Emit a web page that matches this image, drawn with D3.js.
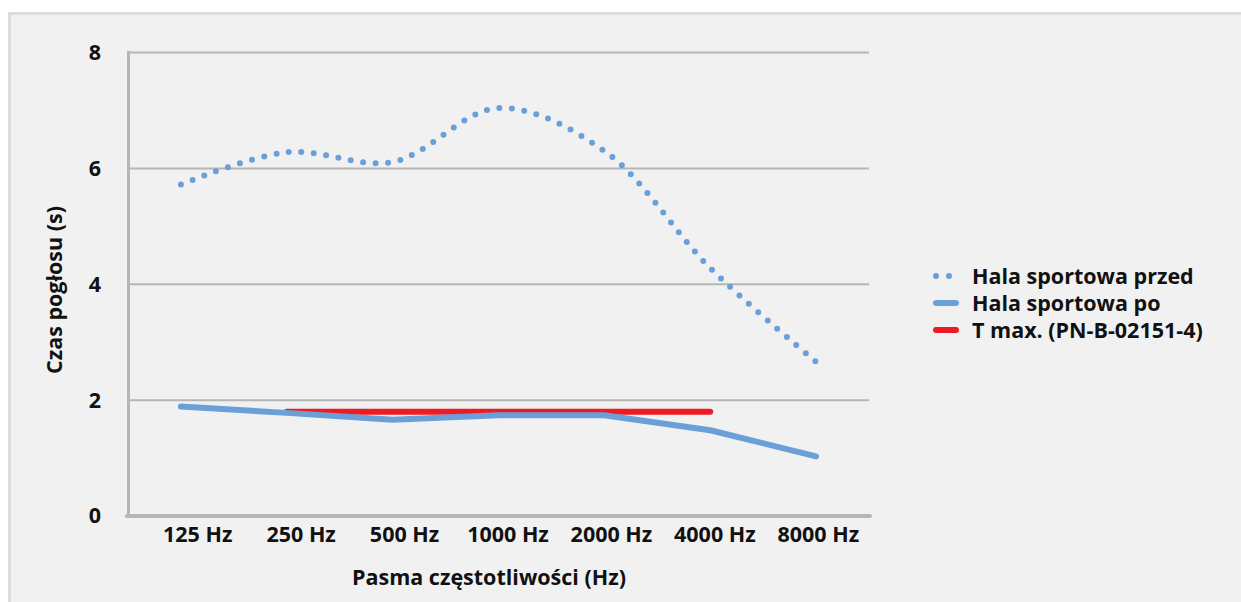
<!DOCTYPE html>
<html>
<head>
<meta charset="utf-8">
<script src="https://cdn.jsdelivr.net/npm/d3@7"></script>
<style>
  body { margin: 0; background: #ffffff; }
  text { font-family: "Open Sans", "Noto Sans", sans-serif; font-weight: bold; fill: #111; }
</style>
</head>
<body>
<div id="chart"></div>
<script>
let w = 1241
let h = 602

// data
let bands = ["125 Hz", "250 Hz", "500 Hz", "1000 Hz", "2000 Hz", "4000 Hz", "8000 Hz"];
let przed = [5.72, 6.28, 6.11, 7.04, 6.3, 4.28, 2.66];
let po = [1.89, 1.78, 1.66, 1.74, 1.74, 1.48, 1.03];
let tmaxBands = ["250 Hz", "500 Hz", "1000 Hz", "2000 Hz", "4000 Hz"];
let tmax = [1.8, 1.8, 1.8, 1.8, 1.8];
let yTicks = [0, 2, 4, 6, 8];
let legendNames = ["Hala sportowa przed", "Hala sportowa po", "T max. (PN-B-02151-4)"];

let blue = "#6a9fd8"
let red = "#ed1c24"
let grid = "#b6b6b6"
let fs = 21.5

let svg = d3.select("#chart")
  .append("svg")
    .attr("width", w)
    .attr("height", h)
;

//panel background
svg.append("rect")
  .attr("x", 9.5)
  .attr("y", 13.5)
  .attr("width", w + 20)
  .attr("height", h + 20)
  .attr("fill", "#f1f1f1")
  .attr("stroke", "#dcdcdc")
  .attr("stroke-width", 3)

//scales
let x = d3.scaleBand()
  .domain(bands)
  .range([128, 869])
;
let xLab = d3.scaleBand()
  .domain(bands)
  .range([146, 870])
;
let y = d3.scaleLinear()
  .domain([0, 8])
  .range([516, 52.5])
;
function cx(d){ return x(d) + x.bandwidth()/2 }

//gridlines
svg.append("g")
  .selectAll("line")
  .data(yTicks.filter(t => t > 0))
  .enter()
  .append("line")
    .attr("x1", 128)
    .attr("x2", 869)
    .attr("y1", d => y(d))
    .attr("y2", d => y(d))
    .attr("stroke", grid)
    .attr("stroke-width", 2)

//y axis
let yAxis = svg.append("g")
  .attr("transform", "translate(101,0)")
  .call(d3.axisLeft(y).tickValues(yTicks).tickSize(0).tickPadding(0))
yAxis.select(".domain").remove()
yAxis.selectAll("text")
  .attr("font-size", fs)
  .attr("fill", "#111")
  .style("font-family", "'Open Sans', sans-serif")
  .style("font-weight", "bold")

svg.append("line")
  .attr("x1", 128.5).attr("x2", 128.5)
  .attr("y1", 51).attr("y2", 517)
  .attr("stroke", grid)
  .attr("stroke-width", 3)

//x axis
let xAxis = svg.append("g")
  .attr("transform", "translate(0,527)")
  .call(d3.axisBottom(xLab).tickSize(0).tickPadding(0))
xAxis.select(".domain").remove()
xAxis.selectAll("text")
  .attr("dy", "0.71em")
  .attr("font-size", fs)
  .attr("fill", "#111")
  .style("font-family", "'Open Sans', sans-serif")
  .style("font-weight", "bold")

svg.append("line")
  .attr("x1", 127).attr("x2", 870)
  .attr("y1", y(0)).attr("y2", y(0))
  .attr("stroke", grid)
  .attr("stroke-width", 4)
  .attr("stroke-linecap", "round")

//axis titles
svg.append("text")
  .text("Pasma częstotliwości (Hz)")
  .attr("x", 489)
  .attr("y", 585)
  .attr("text-anchor", "middle")
  .attr("font-size", fs)

svg.append("text")
  .text("Czas pogłosu (s)")
  .attr("transform", "translate(62,290) rotate(-90)")
  .attr("text-anchor", "middle")
  .attr("font-size", fs)

//lines
let smooth = d3.line()
  .x((d, i) => cx(bands[i]))
  .y(d => y(d))
  .curve(d3.curveCatmullRom.alpha(0.5))

let straight = d3.line()
  .x((d, i) => cx(bands[i]))
  .y(d => y(d))

let straightT = d3.line()
  .x((d, i) => cx(tmaxBands[i]))
  .y(d => y(d))

svg.append("path")
  .attr("d", straightT(tmax))
  .attr("fill", "none")
  .attr("stroke", red)
  .attr("stroke-width", 6)
  .attr("stroke-linecap", "round")

svg.append("path")
  .attr("d", straight(po))
  .attr("fill", "none")
  .attr("stroke", blue)
  .attr("stroke-width", 6)
  .attr("stroke-linecap", "round")
  .attr("stroke-linejoin", "round")

let dotted = svg.append("path")
  .attr("d", smooth(przed))
  .attr("fill", "none")
  .attr("stroke", blue)
  .attr("stroke-width", 6)
  .attr("stroke-linecap", "round")

//make the dots land on both ends (tiny shrink so the last one is kept)
let len = dotted.node().getTotalLength()
let gap = len / Math.round(len / 12.6) - 0.02
dotted.attr("stroke-dasharray", "0 " + gap)

//legend
let legend = svg.append("g")
  .selectAll("g")
  .data(legendNames)
  .enter()
  .append("g")
    .attr("transform", (d, i) => "translate(0," + (276 + i*27) + ")")

legend.append("line")
  .attr("x1", 936).attr("x2", 956)
  .attr("y1", 0).attr("y2", 0)
  .attr("stroke", (d, i) => i == 2 ? red : blue)
  .attr("stroke-width", 6)
  .attr("stroke-linecap", "round")
  .attr("stroke-dasharray", (d, i) => i == 0 ? "0 13" : null)

legend.append("text")
  .text(d => d)
  .attr("x", 972)
  .attr("y", 0)
  .attr("dy", "0.35em")
  .attr("font-size", fs)
</script>
</body>
</html>
